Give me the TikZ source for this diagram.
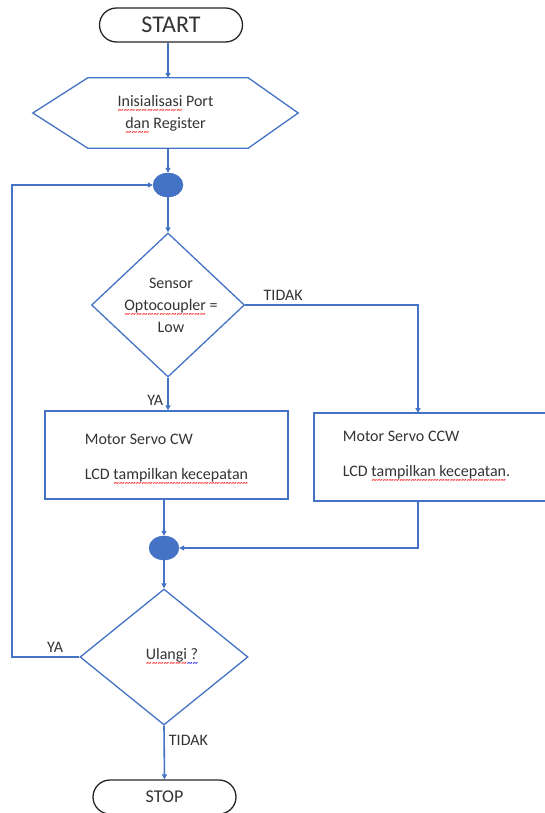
\documentclass[tikz,border=0pt]{standalone}
\usepackage{fontspec}
\setmainfont{Carlito}
\usetikzlibrary{shapes.geometric}
\usetikzlibrary{arrows.meta}
\definecolor{flowblue}{HTML}{4472C4}
% spell-check squiggle under a word
\newcommand{\wavy}[2]{\sbox0{#2}\rlap{\usebox0}\raisebox{-7pt}{\color{#1}\hbox to \wd0{\xleaders\hbox{\fontsize{11}{11}\selectfont\char"7E}\hfil}}}

\begin{document}
\begin{tikzpicture}[x=1pt, y=-1pt, font=\fontsize{16}{22}\selectfont, text=black!80,
	flow/.style={draw=flowblue, line width=1.6pt, -{Triangle[length=5pt,width=5pt]}},
	terminal/.style={draw=black!85, line width=1.3pt, rounded corners=17pt, minimum width=143pt, minimum height=34pt, inner sep=0},
	decision/.style={diamond, draw=flowblue, line width=1.3pt, inner sep=0},
	process/.style={rectangle, draw=flowblue, line width=1.3pt, inner sep=0, minimum height=88pt},
	joint/.style={ellipse, fill=flowblue, draw=flowblue, minimum width=30pt, minimum height=24pt, inner sep=0},
	boxtext/.style={anchor=west, align=left},
	lbl/.style={inner sep=4pt}]
	\useasboundingbox (0,0) rectangle (545,813);

	% terminals and steps
	\node[terminal, font=\fontsize{24}{26}\selectfont] (start) at (171,25) {START};
	\node[minimum width=265pt, minimum height=70pt, inner sep=0, align=center] (init) at (165.5,113) {};
	\node[align=center] (inittxt) at ([yshift=-2pt]init) {\wavy{red}{Inisialisasi} Port\\\wavy{red}{dan} Register};
	\draw[flowblue, line width=1.3pt] (init.west) -- ([xshift=55pt]init.north west) -- ([xshift=-50pt]init.north east)
		-- (init.east) -- ([xshift=-50pt]init.south east) -- ([xshift=55pt]init.south west) -- cycle;
	\node[joint] (join1) at (168,185) {};

	\node[decision, minimum width=153pt, minimum height=144pt] (sensor) at (168,305) {};
	\node[align=center] (sensortxt) at ([xshift=3pt]sensor) {Sensor\\\wavy{red}{Optocoupler} =\\Low};

	\node[process, minimum width=243pt] (cw) at (166.5,455) {};
	\node[boxtext] (cwtxt) at ([xshift=37pt, yshift=-5pt]cw.west) {Motor Servo CW\\[13pt]LCD \wavy{red}{tampilkan kecepatan}};
	\node[process, minimum width=246pt] (ccw) at (437,457) {};
	\node[boxtext] (ccwtxt) at ([xshift=26pt]ccw.west) {Motor Servo CCW\\[13pt]LCD \wavy{red}{tampilkan kecepatan}.};
	\coordinate (ccwin) at (418,413);
	\coordinate (ccwout) at (418,501);

	\node[joint] (join2) at (164,548) {};
	\node[decision, minimum width=168pt, minimum height=136pt] (repeat) at (164,657) {};
	\node (repeattxt) at ([xshift=8pt]repeat) {\wavy{red}{Ulangi}\wavy{blue}{ ?}};
	\coordinate (loopx) at (12,400);

	\node[terminal, font=\fontsize{18}{20}\selectfont] (stop) at (164.5,797) {STOP};

	% connectors
	\draw[flow] (start.south -| join1) -- (init.north -| join1);
	\draw[flow] (init.south -| join1) -- (join1.north);
	\draw[flow] (join1.south) -- (sensor.north);
	\draw[flow] (sensor.south) -- node[pos=.7, left, lbl] {YA} (cw.north -| sensor);
	\draw[flow] (sensor.east) -| node[pos=.11, above, lbl] {TIDAK} (ccwin);
	\draw[flow] (cw.south -| join2) -- (join2.north);
	\draw[flow] (ccwout) |- (join2.east);
	\draw[flow] (join2.south) -- (repeat.north);
	\draw[flow] (repeat.west) -| node[pos=.18, above, lbl] {YA} (loopx) |- (join1.west);
	\draw[flow] (repeat.south) -- node[pos=.27, right, lbl] {TIDAK} (stop.north);
\end{tikzpicture}
\end{document}
